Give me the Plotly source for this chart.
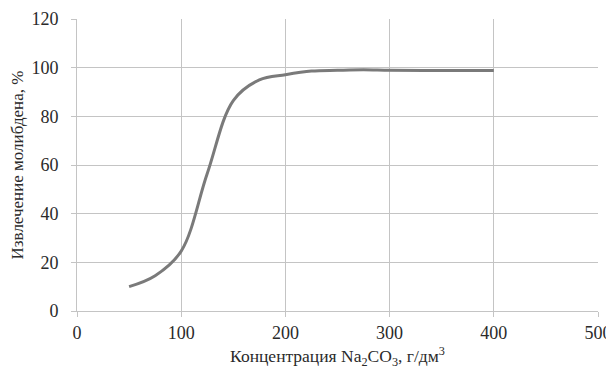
import plotly.graph_objects as go

conc = [50, 75, 100, 125, 150, 175, 200, 225, 250, 275, 300, 350, 400]
extraction = [10, 14.5, 24.6, 56.5, 86.5, 95, 97.1, 98.6, 98.9, 99.1, 98.9, 98.8, 98.8]

x_ticks = [0, 100, 200, 300, 400, 500]
y_ticks = [0, 20, 40, 60, 80, 100, 120]

grid = "#c4c4c4"
font = "Liberation Serif"

fig = go.Figure()
fig.add_trace(go.Scatter(
    x=conc, y=extraction, mode="lines",
    line=dict(color="#7a7a7a", width=3, shape="spline", smoothing=1.0),
    showlegend=False, hoverinfo="skip",
))

fig.update_layout(
    width=606, height=361,
    margin=dict(l=69, r=16, t=11, b=58),
    paper_bgcolor="white", plot_bgcolor="white",
    font=dict(family=font, size=18, color="#2a2a2a"),
)
fig.update_xaxes(
    range=[0, 500], tickvals=x_ticks, ticktext=[str(v) for v in x_ticks],
    showgrid=True, gridcolor=grid, gridwidth=1,
    showline=True, linecolor=grid, linewidth=1,
    ticks="outside", ticklen=5, tickcolor=grid,
    zeroline=False, automargin=False,
    tickfont=dict(family=font, size=18),
    title=dict(text="Концентрация Na<sub>2</sub>CO<sub>3</sub>, г/дм<sup>3</sup>",
               font=dict(size=17.5, family=font), standoff=8),
)
fig.update_yaxes(
    range=[0, 120], tickvals=y_ticks, ticktext=[str(v) for v in y_ticks],
    showgrid=True, gridcolor=grid, gridwidth=1,
    showline=True, linecolor=grid, linewidth=1,
    ticks="outside", ticklen=5, tickcolor=grid,
    ticklabelstandoff=9,
    zeroline=False, automargin=False,
    tickfont=dict(family=font, size=18),
    title=dict(text="Извлечение молибдена, %", font=dict(size=17, family=font), standoff=4),
)

fig.write_html("out.html")
